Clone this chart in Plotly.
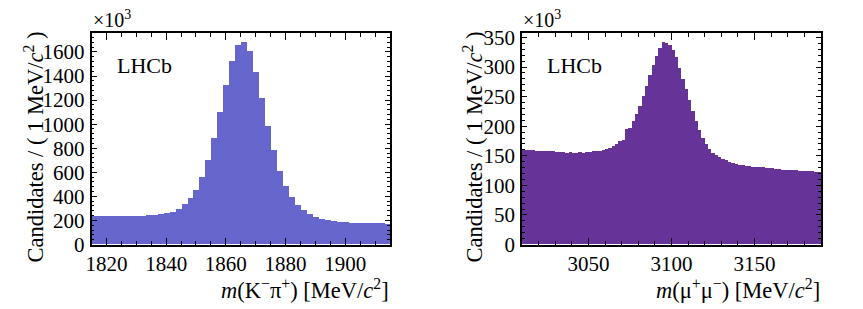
import plotly.graph_objects as go

# ---------------- data ----------------
# D0 -> K- pi+ : 2 MeV bins from 1815 to 1915 (values in units of 10^3)
d0_bin_lo = [1815 + 2 * i for i in range(50)]
d0_counts = [234, 234, 234, 232, 232, 232, 234, 234, 237, 240,
             243, 248, 256, 270, 292, 334, 382, 454, 560, 702,
             883, 1097, 1320, 1524, 1655, 1682, 1602, 1435, 1212, 983,
             786, 607, 485, 390, 326, 281, 251, 226, 210, 199,
             191, 186, 183, 180, 178, 176, 175, 174, 173, 172]

# J/psi -> mu+ mu- : 2 MeV bins from 3010 to 3190 (values in units of 10^3)
jpsi_bin_lo = [3010 + 2 * i for i in range(90)]
jpsi_counts = [160, 159, 159, 159, 158, 158, 158, 157, 157, 157,
               156, 156, 156, 155, 156, 155, 155, 156, 155, 156,
               156, 157, 157, 158, 159, 161, 163, 166, 170, 174,
               176, 194, 197, 208, 220, 233, 250, 267, 286, 303,
               318, 331, 341, 340, 337, 329, 316, 298, 280, 262,
               244, 225, 209, 193, 180, 169, 161, 155, 150, 148,
               144, 142, 139, 137, 135, 134, 134, 133, 132, 131,
               131, 130, 130, 129, 129, 128, 127, 127, 126, 126,
               125, 125, 125, 124, 124, 123, 123, 123, 122, 122]
bin_width = 2

d0_xticks = [1820, 1840, 1860, 1880, 1900]
jpsi_xticks = [3050, 3100, 3150]
d0_yticks = [0, 200, 400, 600, 800, 1000, 1200, 1400, 1600]
jpsi_yticks = [0, 50, 100, 150, 200, 250, 300, 350]

# ---------------- figure ----------------
W, H = 863, 309
FONT = "Liberation Serif, Times New Roman, Times, serif"


def px_x(p):
    return p / W


def px_y(p):
    return 1 - p / H


fig = go.Figure()
fig.add_trace(go.Bar(
    x=[lo + bin_width / 2 for lo in d0_bin_lo], y=d0_counts, width=bin_width,
    marker=dict(color="#6666CC", line=dict(width=0)),
    xaxis="x", yaxis="y", showlegend=False, hoverinfo="x+y"))
fig.add_trace(go.Bar(
    x=[lo + bin_width / 2 for lo in jpsi_bin_lo], y=jpsi_counts, width=bin_width,
    marker=dict(color="#663399", line=dict(width=0)),
    xaxis="x2", yaxis="y2", showlegend=False, hoverinfo="x+y"))

ydom = [px_y(244.5), px_y(33.3)]


def xaxis(dom, rng, ticks, minor, anchor):
    return dict(domain=dom, range=rng, anchor=anchor, automargin=False,
                tickmode="array", tickvals=ticks, ticktext=[str(t) for t in ticks],
                ticks="inside", ticklen=7, tickwidth=1.2, tickcolor="black",
                minor=dict(ticks="inside", ticklen=4, tickwidth=1, tickcolor="black",
                           dtick=minor, tick0=ticks[0], showgrid=False),
                showline=True, linecolor="black", linewidth=1.5, mirror="allticks",
                showgrid=False, zeroline=False,
                tickfont=dict(family=FONT, size=21, color="black"))


def yaxis(rng, ticks, minor, anchor):
    return dict(domain=ydom, range=rng, anchor=anchor, automargin=False,
                tickmode="array", tickvals=ticks, ticktext=[str(t) for t in ticks],
                ticks="inside", ticklen=5.5, tickwidth=1.2, tickcolor="black",
                minor=dict(ticks="inside", ticklen=3, tickwidth=1, tickcolor="black",
                           dtick=minor, tick0=0, showgrid=False),
                showline=True, linecolor="black", linewidth=1.5, mirror="allticks",
                showgrid=False, zeroline=False, ticklabelstandoff=1,
                tickfont=dict(family=FONT, size=21, color="black"))


fig.update_layout(
    width=W, height=H, margin=dict(l=0, r=0, t=0, b=0),
    paper_bgcolor="white", plot_bgcolor="white", bargap=0,
    xaxis=xaxis([px_x(91.5), px_x(390)], [1815, 1915], d0_xticks, 5, "y"),
    yaxis=yaxis([0, 1755], d0_yticks, 40, "x"),
    xaxis2=xaxis([px_x(522), px_x(821)], [3010, 3190], jpsi_xticks, 10, "y2"),
    yaxis2=yaxis([0, 357], jpsi_yticks, 10, "x2"),
    font=dict(family=FONT, color="black"),
)

ann = []
for (x0, x1, xt_title, ytx) in [
        (91.5, 390, "<i>m</i>(K<sup>−</sup>π<sup>+</sup>) [MeV/<i>c</i><sup>2</sup>]", 33),
        (522, 821, "<i>m</i>(μ<sup>+</sup>μ<sup>−</sup>) [MeV/<i>c</i><sup>2</sup>]", 472)]:
    ann.append(dict(x=px_x(x1 + 1), y=px_y(289), xref="paper", yref="paper",
                    xanchor="right", yanchor="middle", showarrow=False,
                    text=xt_title, font=dict(family=FONT, size=22.5)))
    ann.append(dict(x=px_x(ytx), y=px_y(30), xref="paper", yref="paper",
                    xanchor="center", yanchor="top", showarrow=False, textangle=-90,
                    text="Candidates / ( 1 MeV/<i>c</i><sup>2</sup> )",
                    font=dict(family=FONT, size=22.5)))
    ann.append(dict(x=px_x(x0 - 1), y=px_y(33), xref="paper", yref="paper",
                    xanchor="left", yanchor="bottom", showarrow=False,
                    text="×10<sup>3</sup>", font=dict(family=FONT, size=20)))
    ann.append(dict(x=px_x(x0 + 23), y=px_y(65), xref="paper", yref="paper",
                    xanchor="left", yanchor="middle", showarrow=False,
                    text="LHCb", font=dict(family=FONT, size=22)))
fig.update_layout(annotations=ann)

fig.write_html("out.html", config={"displayModeBar": False},
               post_script="document.body.style.margin='0';document.body.style.padding='0';")
